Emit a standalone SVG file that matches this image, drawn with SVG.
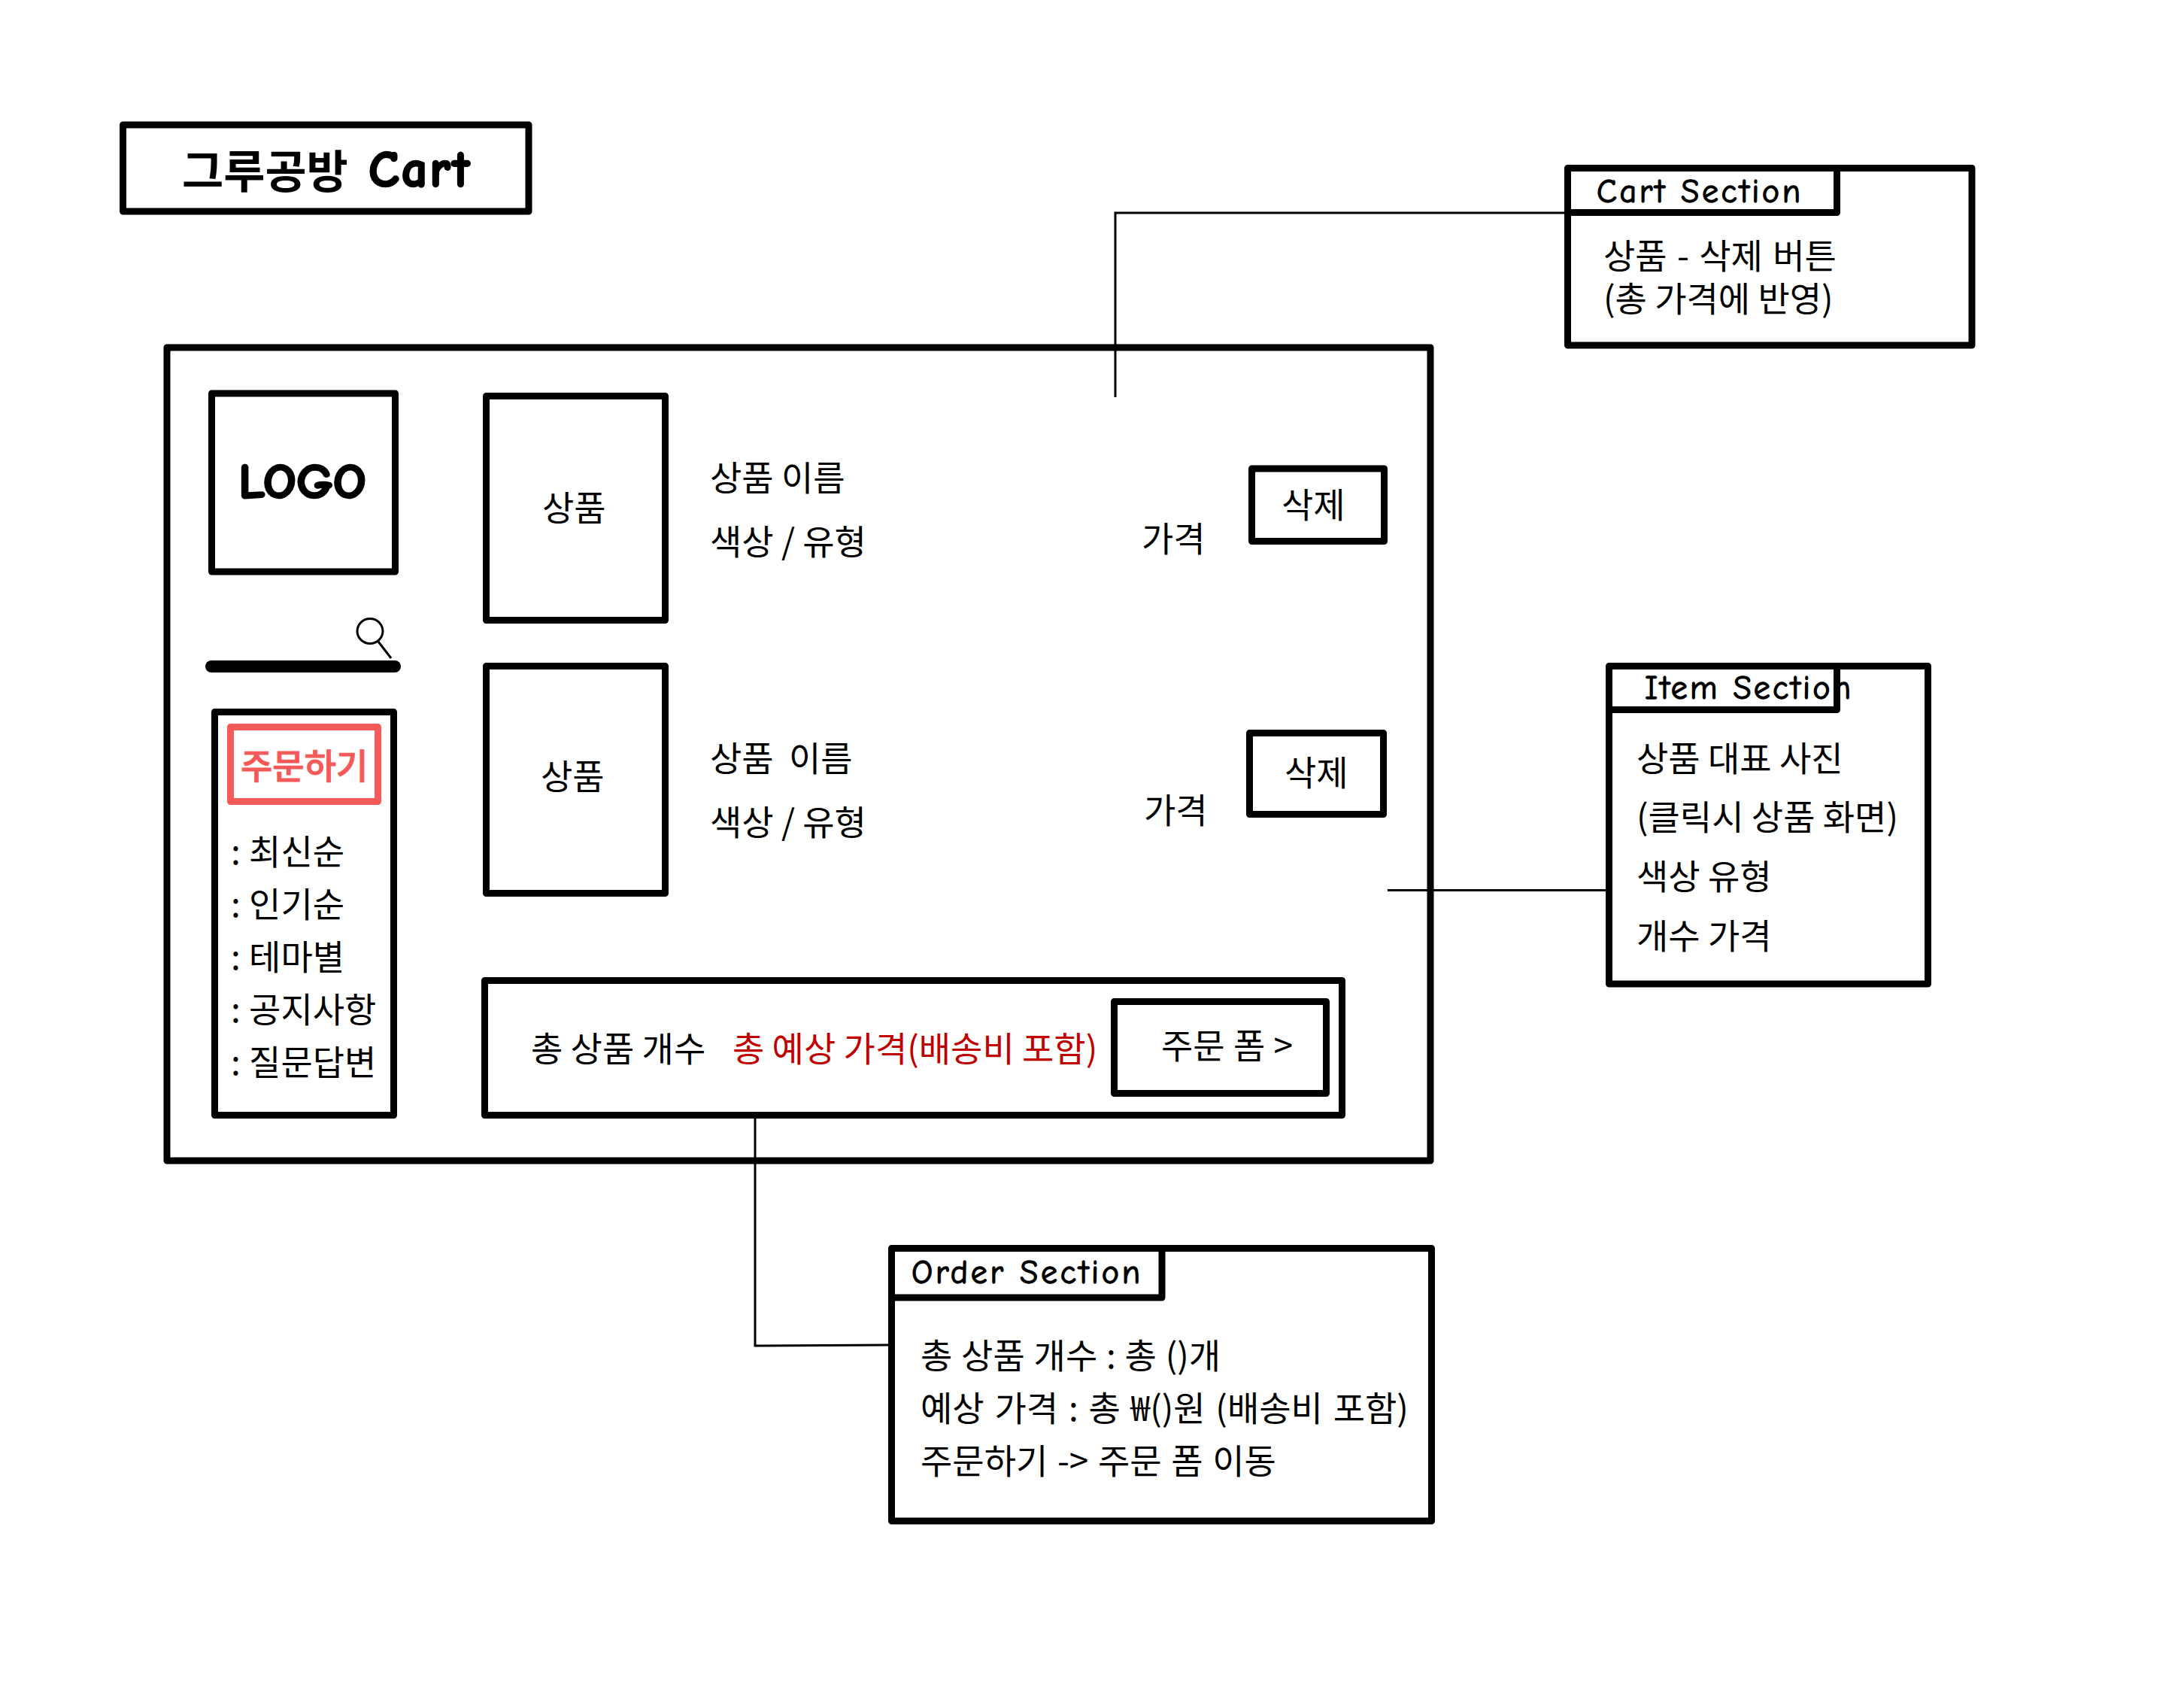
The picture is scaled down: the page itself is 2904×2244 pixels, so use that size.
<svg xmlns="http://www.w3.org/2000/svg" width="2904" height="2244" viewBox="0 0 2904 2244">
<style>
.box{fill:#fff;stroke:#000;stroke-width:9;stroke-linejoin:round}
.nofill{fill:none;stroke:#000;stroke-width:9;stroke-linejoin:round;stroke-linecap:round}
.conn{fill:none;stroke:#000;stroke-width:3}
text{font-family:"Noto Sans CJK KR","Noto Sans",sans-serif;font-size:46px;fill:#000}
.hand{font-family:"Comic Sans MS","Comic Neue",cursive;font-size:44px;stroke:#000;stroke-width:1.300}
.handb{font-family:"Comic Sans MS","Comic Neue",cursive;font-weight:bold;stroke:#000;stroke-width:2.500}
.menu-item{word-spacing:1px}
</style>
<rect width="2904" height="2244" fill="#fff"/>
<g id="title"><rect class="box" x="163.500" y="166" width="539.500" height="115"/><text x="242" y="250" style="font-size:60px;font-weight:700">그루공방</text><text class="handb" x="490" y="248" style="font-size:68px" textLength="134">Cart</text></g>
<g id="main"><rect class="box" x="222" y="462" width="1680" height="1081"/></g>
<g id="logo"><rect class="box" x="281.500" y="523" width="244" height="237"/><text class="handb" x="317" y="662" style="font-size:64px" textLength="170" lengthAdjust="spacingAndGlyphs">LOGO</text></g>
<g id="search"><line x1="281" y1="886" x2="525" y2="886" stroke="#000" stroke-width="16" stroke-linecap="round"/><ellipse cx="492" cy="839" rx="17" ry="16.500" fill="none" stroke="#000" stroke-width="3"/><line x1="503" y1="853" x2="520" y2="875" stroke="#000" stroke-width="3"/></g>
<g id="menu"><rect class="box" x="285.500" y="946.500" width="238" height="536"/><rect x="306.500" y="966.500" width="196" height="99" fill="#fff" stroke="#f55a5a" stroke-width="9" stroke-linejoin="round"/><text x="320" y="1035" style="fill:#f55a5a;font-weight:500;stroke:#f55a5a;stroke-width:1">주문하기</text>
<text class="menu-item" x="307" y="1149">: 최신순</text><text class="menu-item" x="307" y="1219">: 인기순</text><text class="menu-item" x="307" y="1289">: 테마별</text><text class="menu-item" x="307" y="1359">: 공지사항</text><text class="menu-item" x="307" y="1429">: 질문답변</text></g>
<g id="item1"><rect class="box" x="646.500" y="526.500" width="238" height="298"/><text x="721" y="692">상품</text><text x="944" y="651.500">상품 이름</text><text x="944" y="736.500">색상 / 유형</text><text x="1518" y="732.500">가격</text></g>
<g id="delete1"><rect class="box" x="1664.500" y="623" width="176" height="96.500"/><text x="1704" y="688">삭제</text></g>
<g id="item2"><rect class="box" x="646.500" y="885.500" width="238" height="302"/><text x="719" y="1048.500">상품</text><text x="944" y="1024.500" style="word-spacing:10px">상품 이름</text><text x="944" y="1109.500">색상 / 유형</text><text x="1521" y="1094">가격</text></g>
<g id="delete2"><rect class="box" x="1661.500" y="974.500" width="178" height="108"/><text x="1708" y="1044">삭제</text></g>
<g id="order-bar"><rect class="box" x="644.500" y="1303.500" width="1140" height="179"/><text x="706" y="1411">총 상품 개수</text><text x="974" y="1411" style="fill:#c00000">총 예상 가격(배송비 포함)</text><rect class="box" x="1481.500" y="1331.500" width="282" height="122"/><text x="1544" y="1407" style="word-spacing:1px">주문 폼 &gt;</text></g>
<g id="connectors"><path class="conn" d="M2084 283H1483V528"/><line class="conn" x1="1845" y1="1183.500" x2="2135" y2="1183.500"/><path class="conn" d="M1004 1487V1789L1181 1788"/></g>
<g id="cart-section"><rect class="box" x="2084.500" y="223.500" width="537.500" height="235.500"/><path class="nofill" d="M2442.500 224V282.500H2085"/><text class="hand" x="2123" y="269" textLength="271" lengthAdjust="spacing">Cart Section</text><text x="2132" y="356.500" style="word-spacing:3px">상품 - 삭제 버튼</text><text x="2132" y="413.500">(총 가격에 반영)</text></g>
<g id="item-section"><rect class="box" x="2139.500" y="885.500" width="424" height="422.500"/><path class="nofill" d="M2442.500 886V943.500H2145"/><text class="hand" x="2187" y="929" textLength="274" lengthAdjust="spacing">Item Section</text><text x="2176" y="1025">상품 대표 사진</text><text x="2176" y="1103">(클릭시 상품 화면)</text><text x="2176" y="1182">색상 유형</text><text x="2176" y="1261">개수 가격</text></g>
<g id="order-section"><rect class="box" x="1185.500" y="1659.500" width="718" height="362.500"/><path class="nofill" d="M1545 1660V1725H1186"/><text class="hand" x="1212" y="1706" textLength="304" lengthAdjust="spacing">Order Section</text><text x="1224" y="1819" style="word-spacing:1.500px">총 상품 개수 : 총 ()개</text><text x="1224" y="1889" style="word-spacing:3.500px">예상 가격 : 총 ₩()원 (배송비 포함)</text><text x="1224" y="1959" style="word-spacing:2.300px">주문하기 -&gt; 주문 폼 이동</text></g>
</svg>
